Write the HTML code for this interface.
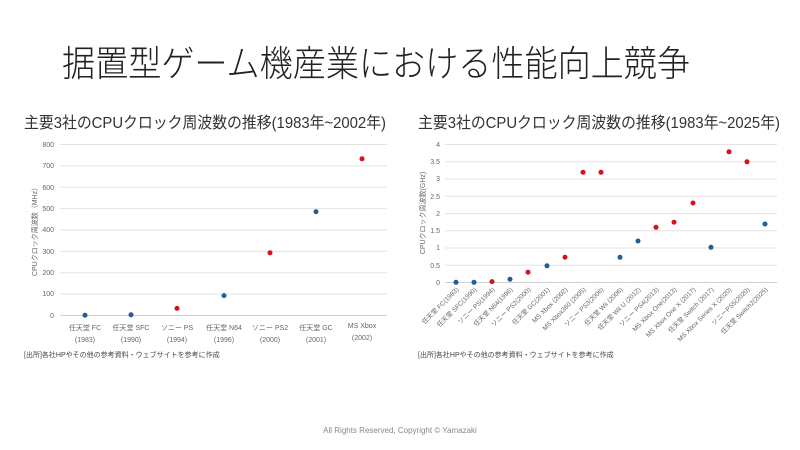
<!DOCTYPE html>
<html><head><meta charset="utf-8"><style>
html,body{margin:0;padding:0;background:#fff;}
svg{display:block;font-family:"Liberation Sans","Noto Sans CJK JP",sans-serif;}
</style></head><body>
<svg width="800" height="450" viewBox="0 0 800 450">
<text x="62" y="76" font-size="36" fill="#222" font-weight="300" textLength="628" lengthAdjust="spacingAndGlyphs">据置型ゲーム機産業における性能向上競争</text>
<text x="24" y="128" font-size="16" fill="#333" textLength="362" lengthAdjust="spacingAndGlyphs">主要3社のCPUクロック周波数の推移(1983年~2002年)</text>
<text x="418" y="128" font-size="16" fill="#333" textLength="362" lengthAdjust="spacingAndGlyphs">主要3社のCPUクロック周波数の推移(1983年~2025年)</text>

<!-- left chart -->
<g stroke="#e3e3e3" stroke-width="1">
<line x1="60" x2="387" y1="144.5" y2="144.5"/><line x1="60" x2="387" y1="165.9" y2="165.9"/>
<line x1="60" x2="387" y1="187.3" y2="187.3"/><line x1="60" x2="387" y1="208.6" y2="208.6"/>
<line x1="60" x2="387" y1="230" y2="230"/><line x1="60" x2="387" y1="251.4" y2="251.4"/>
<line x1="60" x2="387" y1="272.8" y2="272.8"/><line x1="60" x2="387" y1="294.1" y2="294.1"/>
<line x1="60" x2="387" y1="315.5" y2="315.5" stroke="#d0d0d0"/>
</g>
<g font-size="7" fill="#666" text-anchor="end">
<text x="54" y="147">800</text><text x="54" y="168">700</text><text x="54" y="190">600</text><text x="54" y="211">500</text><text x="54" y="232">400</text><text x="54" y="254">300</text><text x="54" y="275">200</text><text x="54" y="296">100</text><text x="54" y="318">0</text>
</g>
<text transform="translate(37,230) rotate(-90)" font-size="7" fill="#666" text-anchor="middle">CPUクロック周波数（MHz）</text>
<g font-size="7" fill="#666" text-anchor="middle">
<text x="85" y="330">任天堂 FC</text><text x="85" y="342">(1983)</text>
<text x="131" y="330">任天堂 SFC</text><text x="131" y="342">(1990)</text>
<text x="177" y="330">ソニー PS</text><text x="177" y="342">(1994)</text>
<text x="224" y="330">任天堂 N64</text><text x="224" y="342">(1996)</text>
<text x="270" y="330">ソニー PS2</text><text x="270" y="342">(2000)</text>
<text x="316" y="330">任天堂 GC</text><text x="316" y="342">(2001)</text>
<text x="362" y="328">MS Xbox</text><text x="362" y="340">(2002)</text>
</g>
<g>
<circle cx="85" cy="315.2" r="2.5" fill="#1f5f96"/><circle cx="131" cy="314.8" r="2.5" fill="#1f5f96"/>
<circle cx="177" cy="308.4" r="2.5" fill="#d8121c"/><circle cx="224" cy="295.6" r="2.5" fill="#1f5f96"/>
<circle cx="270" cy="252.8" r="2.5" fill="#d8121c"/><circle cx="316" cy="211.7" r="2.5" fill="#1f5f96"/>
<circle cx="362" cy="158.8" r="2.5" fill="#d8121c"/>
</g>
<text x="24" y="357" font-size="7" fill="#444">[出所]各社HPやその他の参考資料・ウェブサイトを参考に作成</text>

<!-- right chart -->
<g stroke="#e3e3e3" stroke-width="1">
<line x1="445" x2="777" y1="144.5" y2="144.5"/><line x1="445" x2="777" y1="161.7" y2="161.7"/>
<line x1="445" x2="777" y1="179" y2="179"/><line x1="445" x2="777" y1="196.2" y2="196.2"/>
<line x1="445" x2="777" y1="213.5" y2="213.5"/><line x1="445" x2="777" y1="230.7" y2="230.7"/>
<line x1="445" x2="777" y1="248" y2="248"/><line x1="445" x2="777" y1="265.2" y2="265.2"/>
<line x1="445" x2="777" y1="282.5" y2="282.5" stroke="#d0d0d0"/>
</g>
<g font-size="7" fill="#666" text-anchor="end">
<text x="440" y="147">4</text><text x="440" y="164">3.5</text><text x="440" y="181">3</text><text x="440" y="199">2.5</text><text x="440" y="216">2</text><text x="440" y="233">1.5</text><text x="440" y="250">1</text><text x="440" y="268">0.5</text><text x="440" y="285">0</text>
</g>
<text transform="translate(425,213) rotate(-90)" font-size="7" fill="#666" text-anchor="middle">CPUクロック周波数(GHz)</text>
<g font-size="6.5" fill="#666" text-anchor="end">
<text transform="translate(459,290) rotate(-45)">任天堂 FC(1983)</text>
<text transform="translate(477,290) rotate(-45)">任天堂 SFC(1990)</text>
<text transform="translate(495,290) rotate(-45)">ソニー PS(1994)</text>
<text transform="translate(513,290) rotate(-45)">任天堂 N64(1996)</text>
<text transform="translate(531,290) rotate(-45)">ソニー PS2(2000)</text>
<text transform="translate(550,290) rotate(-45)">任天堂 GC(2001)</text>
<text transform="translate(568,290) rotate(-45)">MS Xbox (2002)</text>
<text transform="translate(586,290) rotate(-45)">MS Xbox360 (2005)</text>
<text transform="translate(604,290) rotate(-45)">ソニー PS3(2006)</text>
<text transform="translate(623,290) rotate(-45)">任天堂 Wii (2006)</text>
<text transform="translate(641,290) rotate(-45)">任天堂 Wii U (2012)</text>
<text transform="translate(659,290) rotate(-45)">ソニー PS4(2013)</text>
<text transform="translate(677,290) rotate(-45)">MS Xbox One(2013)</text>
<text transform="translate(696,290) rotate(-45)">MS Xbox One X (2017)</text>
<text transform="translate(714,290) rotate(-45)">任天堂 Switch (2017)</text>
<text transform="translate(732,290) rotate(-45)">MS Xbox Series X (2020)</text>
<text transform="translate(750,290) rotate(-45)">ソニーPS5(2020)</text>
<text transform="translate(768,290) rotate(-45)">任天堂 Switch2(2025)</text>
</g>
<g>
<circle cx="456" cy="282.3" r="2.5" fill="#1f5f96"/><circle cx="474" cy="282.3" r="2.5" fill="#1f5f96"/>
<circle cx="492" cy="281.6" r="2.5" fill="#d8121c"/><circle cx="510" cy="279.2" r="2.5" fill="#1f5f96"/>
<circle cx="528" cy="272.2" r="2.5" fill="#d8121c"/><circle cx="547" cy="265.8" r="2.5" fill="#1f5f96"/>
<circle cx="565" cy="257.2" r="2.5" fill="#d8121c"/><circle cx="583" cy="172.3" r="2.5" fill="#d8121c"/>
<circle cx="601" cy="172.3" r="2.5" fill="#d8121c"/><circle cx="620" cy="257.3" r="2.5" fill="#1f5f96"/>
<circle cx="638" cy="241" r="2.5" fill="#1f5f96"/><circle cx="656" cy="227.3" r="2.5" fill="#d8121c"/>
<circle cx="674" cy="222.2" r="2.5" fill="#d8121c"/><circle cx="693" cy="203" r="2.5" fill="#d8121c"/>
<circle cx="711" cy="247.3" r="2.5" fill="#1f5f96"/><circle cx="729" cy="151.8" r="2.5" fill="#d8121c"/>
<circle cx="747" cy="161.8" r="2.5" fill="#d8121c"/><circle cx="765" cy="224" r="2.5" fill="#1f5f96"/>
</g>
<text x="418" y="357" font-size="7" fill="#444">[出所]各社HPやその他の参考資料・ウェブサイトを参考に作成</text>

<text x="400" y="433" font-size="8" fill="#888" text-anchor="middle">All Rights Reserved, Copyright © Yamazaki</text>
</svg>
</body></html>
